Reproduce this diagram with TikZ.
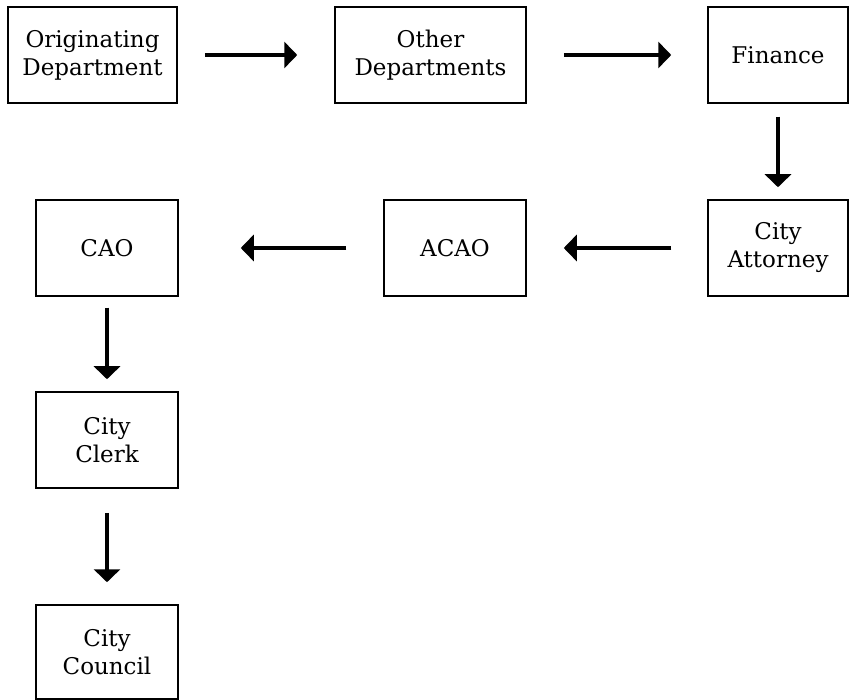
\documentclass[tikz,border=0pt]{standalone}
\usepackage{fontspec}
\setmainfont{DejaVu Serif}
\usetikzlibrary{arrows.meta}
\tikzset{
  box/.style={draw, line width=1.5pt, inner sep=0pt, align=center,
    font=\fontsize{23}{28}\selectfont},
  arr/.style={line width=4.5pt, -{Triangle[length=13pt,width=26pt]}}
}
\begin{document}
\begin{tikzpicture}[x=1pt,y=-1pt]
\useasboundingbox (0,0) rectangle (849,700);
\node[box, minimum width=169pt, minimum height=96pt] (orig) at (92.5,55) {Originating\\Department};
\node[box, minimum width=191pt, minimum height=96pt] (other) at (430.5,55) {Other\\Departments};
\node[box, minimum width=140pt, minimum height=96pt] (fin) at (778,55) {Finance};
\node[box, minimum width=140pt, minimum height=96pt] (att) at (778,248) {City\\Attorney};
\node[box, minimum width=142pt, minimum height=96pt] (acao) at (455,248) {ACAO};
\node[box, minimum width=142pt, minimum height=96pt] (cao) at (107,248) {CAO};
\node[box, minimum width=142pt, minimum height=96pt] (clerk) at (107,440) {City\\Clerk};
\node[box, minimum width=142pt, minimum height=94pt] (council) at (107,652) {City\\Council};
\draw[arr, shorten <=27pt, shorten >=37pt] (orig) -- (other);
\draw[arr, shorten <=37pt, shorten >=36pt] (other) -- (fin);
\draw[arr, shorten <=13pt, shorten >=12pt] (fin) -- (att);
\draw[arr, shorten <=36pt, shorten >=37pt] (att) -- (acao);
\draw[arr, shorten <=37pt, shorten >=62pt] (acao) -- (cao);
\draw[arr, shorten <=11pt, shorten >=12pt] (cao) -- (clerk);
\draw[arr, shorten <=24pt, shorten >=22pt] (clerk) -- (council);
\end{tikzpicture}
\end{document}
